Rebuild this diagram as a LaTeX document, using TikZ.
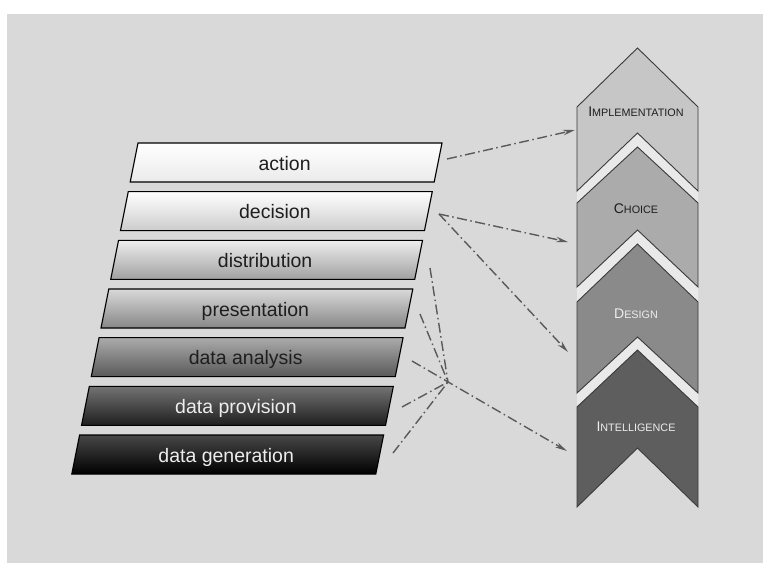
\documentclass[tikz,border=0pt]{standalone}
\usepackage{fontspec}
\setmainfont{Liberation Sans}
\usetikzlibrary{arrows.meta}
\definecolor{bg}{HTML}{D9D9D9}
\definecolor{gapband}{HTML}{E9E9E9}
\definecolor{linegray}{HTML}{5A5A5A}
\definecolor{chevborder}{HTML}{3A3A3A}
\definecolor{chevA}{HTML}{C6C6C6}
\definecolor{chevB}{HTML}{ABABAB}
\definecolor{chevC}{HTML}{8A8A8A}
\definecolor{chevD}{HTML}{5E5E5E}
\definecolor{darktext}{HTML}{1E1E1E}
\definecolor{lighttext}{HTML}{EDEDED}
\newcommand{\mylayer}[6]{%
  \pgfmathsetmacro{\ty}{143+48.67*#1}%
  \pgfmathsetmacro{\tx}{138-9.733*#1}%
  \shadedraw[layerbox, top color=#4, bottom color=#5] (\tx,\ty) -- ++(304,0) -- ++(-7.8,39) -- ++(-304,0) -- cycle;%
  \node[layertext, text=#6, anchor=base] (#2) at (\tx+152-5.4,\ty+27) {#3};%
}
\newcommand{\mychev}[5]{%
  \filldraw[chev, fill=#5] (637.5,#1) -- (698,#2) -- (698,#4) -- (637.5,#3) -- (577,#4) -- (577,#2) -- cycle;%
}
\newcommand{\mygap}[4]{%
  \fill[gapband] (577,#1) -- (637.5,#2) -- (698,#1) -- (698,#3) -- (637.5,#4) -- (577,#3) -- cycle;%
}
\newcommand{\chevlabel}[2]{{\fontsize{14}{14}\selectfont #1}{\fontsize{10.8}{10.8}\selectfont #2}}
\begin{document}
\begin{tikzpicture}[x=1pt,y=-1pt,
  layerbox/.style={draw=black, line width=1.1pt},
  layertext/.style={font=\fontsize{19.5}{19.5}\selectfont, inner sep=0pt},
  flow/.style={draw=linegray, line width=1.4pt, dash pattern=on 10pt off 3.5pt on 1.5pt off 3.5pt},
  flowarrow/.style={flow, -{Stealth[length=12pt,width=5.5pt]}},
  chev/.style={draw=chevborder, line width=0.9pt},
  chevtext/.style={inner sep=0pt, anchor=base}]
\useasboundingbox (0,0) rectangle (763,563);
\fill[white] (0,0) rectangle (763,563);
\fill[bg] (7,14) rectangle (763,563);

% layers
\mylayer{0}{action}{action}{white}{black!8}{darktext}
\mylayer{1}{decision}{decision}{white}{black!20}{darktext}
\mylayer{2}{distribution}{distribution}{black!7}{black!37}{darktext}
\mylayer{3}{presentation}{presentation}{black!15}{black!47}{darktext}
\mylayer{4}{analysis}{data analysis}{black!33}{black!65}{darktext}
\mylayer{5}{provision}{data provision}{black!55}{black!88}{lighttext}
\mylayer{6}{generation}{data generation}{black!72}{black}{lighttext}

% chevrons
\mygap{191}{133}{203}{147}
\mygap{287}{230}{302}{244}
\mygap{393}{337}{407}{350}
\mychev{48}{107}{133}{191}{chevA}
\mychev{147}{203}{230}{287}{chevB}
\mychev{244}{302}{337}{393}{chevC}
\mychev{350}{407}{448}{507}{chevD}
\node[chevtext, text=darktext] (impl) at (636,116) {\chevlabel{I}{MPLEMENTATION}};
\node[chevtext, text=darktext] (choice) at (636,213) {\chevlabel{C}{HOICE}};
\node[chevtext, text=lighttext] (design) at (636,318) {\chevlabel{D}{ESIGN}};
\node[chevtext, text=lighttext] (intel) at (636,431) {\chevlabel{I}{NTELLIGENCE}};

% connector end points
\coordinate (actR) at (447,159);
\coordinate (decR) at (439,214);
\coordinate (anaR) at (412,361);
\coordinate (distR) at (430,268);
\coordinate (presR) at (420,314);
\coordinate (provR) at (402,407);
\coordinate (genR) at (393,453);
\coordinate (J) at (448,382);
\coordinate (implIn) at (575,130);
\coordinate (choiceIn) at (568,242);
\coordinate (designIn) at (568,352);
\coordinate (intelIn) at (567,451);

% connectors
\draw[flowarrow] (actR) -- (implIn);
\draw[flowarrow] (decR) -- (choiceIn);
\draw[flowarrow] (decR) -- (designIn);
\draw[flowarrow] (anaR) -- (intelIn);
\draw[flow] (distR) -- (J);
\draw[flow] (presR) -- (J);
\draw[flow] (provR) -- (J);
\draw[flow] (genR) -- (J);
\end{tikzpicture}
\end{document}
